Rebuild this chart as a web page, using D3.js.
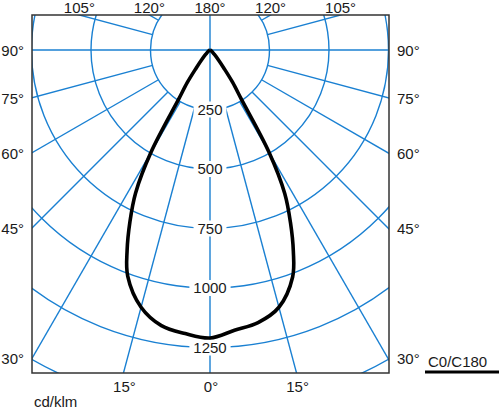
<!DOCTYPE html>
<html><head><meta charset="utf-8">
<script src="https://cdn.jsdelivr.net/npm/d3@7"></script>
<style>html,body{margin:0;padding:0;background:#fff;}svg{display:block;}</style>
</head><body>
<svg id="c" width="500" height="409"></svg>
<script>
// ---- data ----
const gammaAngles = [0, 5, 10, 15, 20, 22.5, 25, 27.5, 30, 32.5, 35, 37.5, 40, 45, 60, 90];
const intensityC180 = [1210, 1196, 1176, 1119, 1011, 910, 796, 677, 494, 245, 165, 95, 60, 25, 5, 0];
const intensityC0   = [1210, 1182, 1163, 1119, 1015, 915, 800, 680, 494, 245, 165, 95, 60, 25, 5, 0];
const ringValues = [250, 500, 750, 1000, 1250, 1500, 1750, 2000];
const ringLabels = [250, 500, 750, 1000, 1250];
const spokeAngles = [0, 15, 30, 45, 60, 75, 90, 105, 120, 135, 150, 165, 180];
const topTicks = [105, 120, 180];
const sideTicks = [90, 75, 60, 45, 30];
const bottomTicks = [15, 0];
const unitLabel = "cd/klm";
const legendLabel = "C0/C180";

// ---- layout ----
const svg = d3.select("#c");
const frame = {x0: 32, x1: 389, y0: 15, y1: 373};
const cx = 210, cy = 50;
const r = d3.scaleLinear().domain([0, 1250]).range([0, 297.5]);
const blue = "#1a80d2";
const font = "Liberation Sans, Arial, Helvetica, sans-serif";
const rad = d => d * Math.PI / 180;

svg.append("defs").append("clipPath").attr("id", "fr")
  .append("rect").attr("x", frame.x0).attr("y", frame.y0)
  .attr("width", frame.x1 - frame.x0).attr("height", frame.y1 - frame.y0);

const g = svg.append("g").attr("clip-path", "url(#fr)");
const gc = g.append("g").attr("transform", `translate(${cx},${cy})`);

// rings
gc.selectAll("circle.ring").data(ringValues).join("circle")
  .attr("class", "ring").attr("r", d => r(d))
  .attr("fill", "none").attr("stroke", blue).attr("stroke-width", 1.4);

// spokes
const spokes = [];
spokeAngles.forEach(a => {
  [-1, 1].forEach(s => {
    if ((a === 0 || a === 180) && s === 1) return;
    const start = (a === 0 || a === 90 || a === 180) ? 0 : r(250);
    spokes.push({a, s, start});
  });
});
gc.selectAll("line.spoke").data(spokes).join("line")
  .attr("class", "spoke")
  .attr("x1", d => d.s * d.start * Math.sin(rad(d.a)))
  .attr("y1", d => d.start * Math.cos(rad(d.a)))
  .attr("x2", d => d.s * 800 * Math.sin(rad(d.a)))
  .attr("y2", d => 800 * Math.cos(rad(d.a)))
  .attr("stroke", blue).attr("stroke-width", 1.4);

// ring labels with white background
const rl = gc.selectAll("g.rl").data(ringLabels).join("g")
  .attr("transform", d => `translate(0,${r(d)})`);
rl.append("rect")
  .attr("x", d => -(String(d).length * 8.3 + 8) / 2)
  .attr("y", -8).attr("width", d => String(d).length * 8.3 + 8).attr("height", 16)
  .attr("fill", "#fff");
rl.append("text").text(d => d)
  .attr("text-anchor", "middle").attr("dy", "0.36em")
  .attr("font-family", font).attr("font-size", 15).attr("fill", "#1a1a1a");

// intensity curve
const pts = [];
for (let i = gammaAngles.length - 1; i >= 0; i--) pts.push([Math.PI + rad(gammaAngles[i]), r(intensityC180[i])]);
for (let i = 1; i < gammaAngles.length; i++) pts.push([Math.PI - rad(gammaAngles[i]), r(intensityC0[i])]);
const line = d3.lineRadial().angle(d => d[0]).radius(d => d[1]).curve(d3.curveCatmullRom.alpha(0.5));
gc.append("path").attr("d", line(pts))
  .attr("fill", "none").attr("stroke", "#000").attr("stroke-width", 3.6)
  .attr("stroke-linejoin", "round");

// frame
svg.append("rect").attr("x", frame.x0).attr("y", frame.y0)
  .attr("width", frame.x1 - frame.x0).attr("height", frame.y1 - frame.y0)
  .attr("fill", "none").attr("stroke", "#333").attr("stroke-width", 1.5);

const txt = (x, y, s, anchor) => svg.append("text").attr("x", x).attr("y", y).text(s)
  .attr("text-anchor", anchor).attr("font-family", font).attr("font-size", 15).attr("fill", "#1a1a1a");

// top ticks
topTicks.forEach(a => {
  const sides = a === 180 ? [1] : [-1, 1];
  sides.forEach(s => {
    const rr = (frame.y0 - cy) / Math.cos(rad(a));
    const x = cx + s * rr * Math.sin(rad(a));
    txt(x, 13, a + "°", "middle");
  });
});
// side ticks
sideTicks.forEach(a => {
  const rr = (cx - frame.x0) / Math.sin(rad(a));
  const y = cy + rr * Math.cos(rad(a));
  txt(24, y + 6, a + "°", "end");
  txt(397, y + 6, a + "°", "start");
});
// bottom ticks
bottomTicks.forEach(a => {
  const sides = a === 0 ? [1] : [-1, 1];
  sides.forEach(s => {
    const rr = (frame.y1 - cy) / Math.cos(rad(a));
    const x = cx + s * rr * Math.sin(rad(a));
    txt(x + 1, 392, a + "°", "middle");
  });
});

txt(34, 407, unitLabel, "start");
txt(428, 367, legendLabel, "start");
svg.append("rect").attr("x", 425).attr("y", 370.5).attr("width", 74).attr("height", 3).attr("fill", "#000");
</script>
</body></html>
